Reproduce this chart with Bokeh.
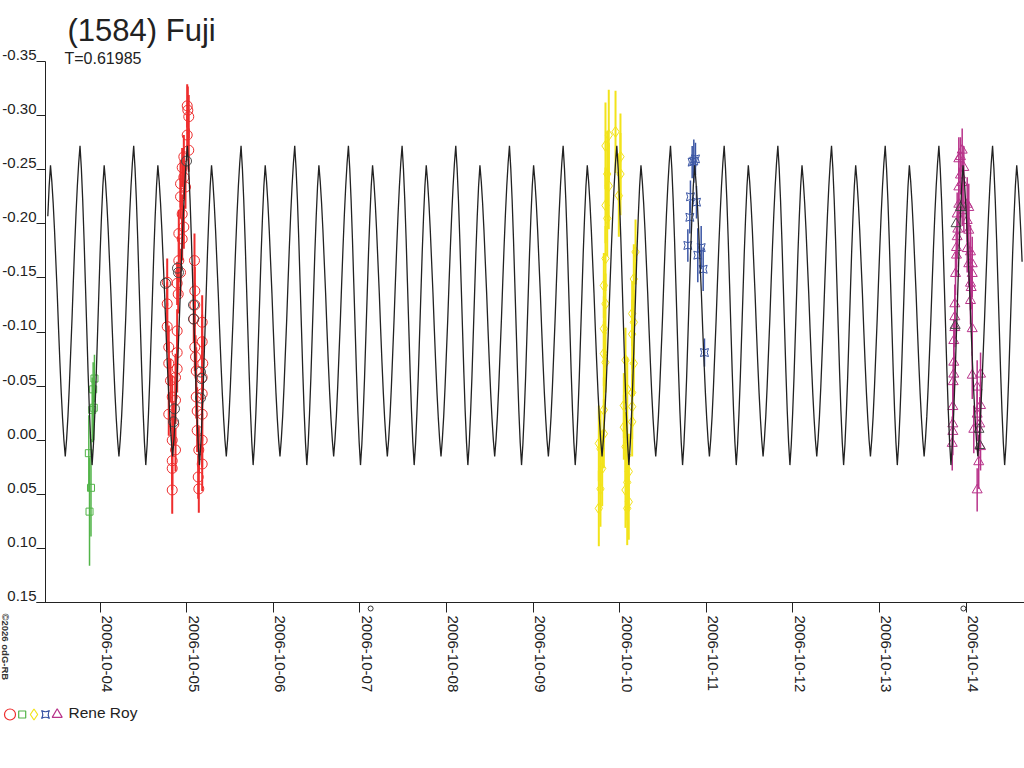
import math
import numpy as np
from bokeh.plotting import figure
from bokeh.models import Range1d, FixedTicker, CustomJSTickFormatter, Label, ColumnDataSource
from bokeh.embed import file_html
from bokeh.resources import INLINE

# ---------------- data ----------------
TITLE = "(1584) Fuji"
PERIOD_TEXT = "T=0.61985"
COPYRIGHT = "\u00a92026 odG-RB"
OBSERVER = "Rene Roy"

PERIOD = 0.61985          # days
EPOCH = -0.5716           # days after 2006-10-04 00:00 UT (fainter maximum, phase 0)
CURVE_START, CURVE_END = -0.618, 10.652
AXIS_X_START = -0.733
Y_AXIS_AT = -0.6293       # time at which the magnitude axis stands
Y_MIN, Y_MAX = -0.35, 0.15

x_tick_values = [0, 1, 2, 3, 4, 5, 6, 7, 8, 9, 10]
x_tick_labels = ["2006-10-04", "2006-10-05", "2006-10-06", "2006-10-07", "2006-10-08",
                 "2006-10-09", "2006-10-10", "2006-10-11", "2006-10-12", "2006-10-13",
                 "2006-10-14"]
y_tick_values = [-0.35, -0.30, -0.25, -0.20, -0.15, -0.10, -0.05, 0.00, 0.05, 0.10, 0.15]
y_tick_labels = ["-0.35", "-0.30", "-0.25", "-0.20", "-0.15", "-0.10", "-0.05",
                 "0.00", "0.05", "0.10", "0.15"]

# one period of the fitted light curve (phase, relative magnitude)
curve_phase = [0.000, 0.025, 0.050, 0.075, 0.100, 0.125, 0.150, 0.175, 0.200, 0.225,
               0.250, 0.275, 0.300, 0.325, 0.350, 0.375, 0.400, 0.425, 0.450, 0.475,
               0.500, 0.525, 0.550, 0.575, 0.600, 0.625, 0.650, 0.675, 0.700, 0.725,
               0.750, 0.775, 0.800, 0.825, 0.850, 0.875, 0.900, 0.925, 0.950, 0.975]
curve_mag = [-0.254, -0.239, -0.219, -0.194, -0.165, -0.136, -0.103, -0.072, -0.044, -0.020,
             0.000, 0.015, -0.001, -0.022, -0.049, -0.080, -0.111, -0.146, -0.179, -0.209,
             -0.235, -0.256, -0.272, -0.251, -0.222, -0.186, -0.145, -0.104, -0.063, -0.027,
             0.002, 0.023, 0.004, -0.024, -0.057, -0.096, -0.135, -0.174, -0.207, -0.235]

# session 1 (red circles), time in days after 2006-10-04 00:00 UT
red_t = [1.007, 1.014, 1.025, 1.007, 1.025, 0.968, 0.949, 0.968, 0.930, 0.987,
         0.930, 0.949, 0.968, 0.910, 0.949, 0.910, 0.930, 0.891, 0.903, 0.776,
         0.776, 0.776, 0.891, 0.794, 0.891, 0.794, 0.891, 0.814, 0.872, 0.834,
         0.872, 0.794, 0.852, 0.834, 0.872, 0.834, 0.834, 0.834,
         1.091, 1.095, 1.095, 1.083, 1.180, 1.095, 1.180, 1.103, 1.187, 1.111,
         1.180, 1.111, 1.180, 1.122, 1.180, 1.122, 1.180, 1.141, 1.180, 1.134, 1.141]
red_mag = [-0.309, -0.305, -0.299, -0.282, -0.268, -0.262, -0.252, -0.243, -0.237, -0.234,
           -0.225, -0.209, -0.197, -0.191, -0.186, -0.166, -0.155, -0.145, -0.135, -0.146,
           -0.126, -0.105, -0.101, -0.086, -0.081, -0.071, -0.066, -0.055, -0.058, -0.040,
           -0.037, -0.024, -0.015, 0.000, 0.009, 0.019, 0.026, 0.046,
           -0.166, -0.138, -0.125, -0.112, -0.109, -0.086, -0.091, -0.077, -0.071, -0.064,
           -0.058, -0.040, -0.043, -0.027, -0.024, -0.009, 0.000, 0.009, 0.022, 0.034, 0.045]
red_err = [0.020, 0.022, 0.020, 0.018, 0.020, 0.020, 0.018, 0.020, 0.022, 0.020,
           0.020, 0.018, 0.020, 0.022, 0.020, 0.020, 0.022, 0.020, 0.018, 0.022,
           0.020, 0.022, 0.020, 0.020, 0.022, 0.020, 0.022, 0.020, 0.022, 0.020,
           0.022, 0.020, 0.020, 0.022, 0.020, 0.022, 0.020, 0.022,
           0.025, 0.022, 0.020, 0.022, 0.025, 0.022, 0.025, 0.020, 0.025, 0.022,
           0.025, 0.020, 0.025, 0.022, 0.025, 0.020, 0.025, 0.022, 0.025, 0.020, 0.022]

# points drawn in dark grey within sessions 1 and 5
grey_c_t = [0.756, 0.895, 0.906, 1.080, 1.080, 1.160, 1.172, 0.860, 0.849, 1.160, 0.999]
grey_c_mag = [-0.145, -0.159, -0.155, -0.125, -0.112, -0.063, -0.057, -0.029, -0.017, -0.039, -0.258]
grey_tri_t = [9.885, 9.936, 9.875, 10.150, 10.160]
grey_tri_mag = [-0.200, -0.215, -0.106, -0.010, 0.005]

# session 2 (green squares)
green_t = [-0.064, -0.079, -0.072, -0.090, -0.129, -0.104, -0.121]
green_mag = [-0.057, -0.047, -0.030, -0.028, 0.012, 0.044, 0.066]
green_err = [0.022, 0.025, 0.030, 0.030, 0.035, 0.045, 0.050]

# session 3 (yellow diamonds)
yel_t = [5.837, 5.875, 5.953, 6.010, 5.857, 6.010, 5.875, 5.991, 5.837, 5.857,
         5.837, 5.818, 5.837, 5.818, 5.818, 5.837, 5.818, 5.818, 5.760, 5.779,
         5.799, 5.779, 5.760,
         6.184, 6.164, 6.145, 6.164, 6.145, 6.068, 6.164, 6.088, 6.145, 6.049,
         6.145, 6.145, 6.049, 6.068, 6.088, 6.106, 6.088, 6.068, 6.106, 6.088]
yel_mag = [-0.272, -0.282, -0.285, -0.262, -0.246, -0.246, -0.235, -0.226, -0.217, -0.205,
           -0.168, -0.143, -0.126, -0.103, -0.080, -0.072, -0.028, -0.006, 0.003, 0.008,
           0.026, 0.045, 0.063,
           -0.174, -0.149, -0.117, -0.109, -0.098, -0.074, -0.071, -0.047, -0.044, -0.032,
           -0.031, -0.017, -0.012, 0.006, 0.014, 0.029, 0.039, 0.046, 0.057, 0.063]
yel_err = [0.040, 0.042, 0.038, 0.040, 0.040, 0.038, 0.040, 0.038, 0.035, 0.035,
           0.030, 0.030, 0.028, 0.030, 0.030, 0.028, 0.030, 0.032, 0.035, 0.035,
           0.035, 0.035, 0.035,
           0.030, 0.032, 0.030, 0.030, 0.032, 0.030, 0.030, 0.030, 0.032, 0.030,
           0.030, 0.032, 0.030, 0.032, 0.032, 0.035, 0.035, 0.035, 0.035, 0.034]

# session 4 (blue)
blue_t = [6.857, 6.876, 6.838, 6.818, 6.888, 6.811, 6.788, 6.942, 6.903, 6.965, 6.980]
blue_mag = [-0.258, -0.260, -0.257, -0.225, -0.220, -0.206, -0.180, -0.178, -0.171, -0.158, -0.081]
blue_err = [0.020, 0.015, 0.015, 0.015, 0.015, 0.015, 0.015, 0.020, 0.025, 0.020, 0.013]

# session 5 (magenta triangles)
mag_t = [9.956, 9.936, 9.917, 9.975, 9.936, 9.956, 9.917, 9.956, 9.917, 9.898,
         9.905, 9.898, 9.890, 9.890, 9.879, 9.871, 9.871, 9.871, 9.859, 9.859,
         9.859, 9.852, 9.848, 9.848, 9.848, 9.841,
         9.975, 10.014, 10.032, 10.014, 10.032, 10.014, 10.052, 10.032, 10.072, 10.072,
         10.052, 10.060, 10.052, 10.072, 10.072, 10.168, 10.129, 10.168, 10.129, 10.090,
         10.159, 10.168, 10.147, 10.129]
mag_mag = [-0.268, -0.262, -0.260, -0.252, -0.245, -0.238, -0.234, -0.218, -0.218, -0.209,
           -0.195, -0.188, -0.178, -0.171, -0.154, -0.126, -0.114, -0.104, -0.092, -0.072,
           -0.061, -0.054, -0.031, -0.015, -0.008, 0.003,
           -0.212, -0.218, -0.215, -0.203, -0.194, -0.177, -0.174, -0.163, -0.163, -0.154,
           -0.145, -0.141, -0.129, -0.103, -0.060, -0.061, -0.049, -0.032, -0.024, -0.010,
           -0.015, 0.006, 0.020, 0.046]
mag_err = [0.020, 0.018, 0.020, 0.020, 0.018, 0.020, 0.018, 0.020, 0.018, 0.020,
           0.018, 0.020, 0.018, 0.020, 0.020, 0.018, 0.020, 0.018, 0.020, 0.018,
           0.020, 0.018, 0.022, 0.020, 0.022, 0.025,
           0.020, 0.025, 0.022, 0.020, 0.025, 0.022, 0.025, 0.020, 0.025, 0.022,
           0.025, 0.020, 0.022, 0.025, 0.022, 0.020, 0.025, 0.022, 0.025, 0.022,
           0.025, 0.022, 0.025, 0.020]

# small marks just under the time axis
axis_mark_t = [3.125, 9.970]

# ---------------- layout / style ----------------
W, H = 1024, 768
PX0, PX_PER_DAY = 99.5, 86.6          # screen x of 2006-10-04, pixels per day
PY0, PY_PER_MAG = 61.0, 1082.0        # screen y of -0.35, pixels per magnitude


def tx(px):   # screen x -> time axis
    return (px - PX0) / PX_PER_DAY


def my(py):   # screen y -> magnitude axis
    return Y_MIN + (py - PY0) / PY_PER_MAG


RED, GREEN, YELLOW, BLUE, MAGENTA = "#ee2d2d", "#52b449", "#f2e31a", "#3a55a4", "#b8338a"
GREY, CURVE, TEXT = "#4a4a4a", "#222222", "#222222"
FONT = "Liberation Sans"

p = figure(width=W, height=H,
           x_range=Range1d(tx(0), tx(W)), y_range=Range1d(my(H), my(0)),
           output_backend="svg", toolbar_location=None,
           min_border=0, min_border_left=0, min_border_right=0,
           min_border_top=0, min_border_bottom=0,
           outline_line_color=None, background_fill_color="white", border_fill_color="white")
p.grid.visible = False

xa = p.xaxis[0]
ya = p.yaxis[0]
xa.fixed_location = Y_MAX
xa.bounds = (AXIS_X_START, tx(W))
ya.fixed_location = Y_AXIS_AT
ya.bounds = (Y_MIN, Y_MAX)
for ax, ticks, out in ((xa, x_tick_values, 10), (ya, y_tick_values, 9)):
    ax.ticker = FixedTicker(ticks=ticks)
    ax.formatter = CustomJSTickFormatter(code="return ''")
    ax.major_tick_out = out
    ax.major_tick_in = 0
    ax.minor_tick_line_color = None
    ax.axis_line_color = CURVE
    ax.major_tick_line_color = CURVE
    ax.major_label_standoff = 0


def session(t, m, e, color, marker, size, lw=1.5):
    assert len(t) == len(m) == len(e)
    src = ColumnDataSource(dict(t=t, m=m,
                                lo=[a - b for a, b in zip(m, e)],
                                hi=[a + b for a, b in zip(m, e)]))
    p.segment(x0="t", y0="lo", x1="t", y1="hi", source=src, line_color=color, line_width=lw)
    p.scatter(x="t", y="m", source=src, marker=marker, size=size,
              line_color=color, fill_color=None, line_width=1)


session(green_t, green_mag, green_err, GREEN, "square", 7)
session(red_t, red_mag, red_err, RED, "circle", 10, lw=2)
session(yel_t, yel_mag, yel_err, YELLOW, "diamond", 11, lw=2)
session(blue_t, blue_mag, blue_err, BLUE, "square_pin", 8)
session(mag_t, mag_mag, mag_err, MAGENTA, "triangle", 10)
p.scatter(grey_c_t, grey_c_mag, marker="circle", size=10, line_color=GREY, fill_color=None)
p.scatter(grey_tri_t, grey_tri_mag, marker="triangle", size=10, line_color=GREY, fill_color=None)

# model light curve, repeated with the period
phase = np.array(curve_phase)
tmpl = np.array(curve_mag)
n0 = math.floor((CURVE_START - EPOCH) / PERIOD) - 1
n1 = math.ceil((CURVE_END - EPOCH) / PERIOD) + 1
cyc = np.arange(n0, n1)
ct = (EPOCH + (cyc[:, None] + phase[None, :]) * PERIOD).ravel()
cm = np.tile(tmpl, len(cyc))
keep = (ct >= CURVE_START) & (ct <= CURVE_END)
p.line(ct[keep], cm[keep], line_color=CURVE, line_width=1.3)

p.scatter(axis_mark_t, [my(608)] * len(axis_mark_t), marker="circle", size=5,
          line_color="#333333", fill_color=None, line_width=1)

# tick labels: magnitude labels sit just above their tick, date labels right of their tick
Y_LABEL_RAISE = 6.6 / PY_PER_MAG
X_LABEL_SHIFT = 7.0 / PX_PER_DAY
for v, s in zip(y_tick_values, y_tick_labels):
    p.add_layout(Label(x=36, x_units="screen", y=v - Y_LABEL_RAISE, y_units="data", text=s,
                       text_align="right", text_baseline="middle",
                       text_font=FONT, text_font_size="15px", text_color=TEXT))
for v, s in zip(x_tick_values, x_tick_labels):
    p.add_layout(Label(x=v + X_LABEL_SHIFT, x_units="data", y=H - 615, y_units="screen", text=s,
                       angle=-math.pi / 2, text_align="left", text_baseline="middle",
                       text_font=FONT, text_font_size="15px", text_color=TEXT))

p.add_layout(Label(x=67, y=H - 29.5, x_units="screen", y_units="screen", text=TITLE,
                   text_font=FONT, text_font_size="31px", text_color=TEXT,
                   text_baseline="middle"))
p.add_layout(Label(x=64, y=H - 58.2, x_units="screen", y_units="screen", text=PERIOD_TEXT,
                   text_font=FONT, text_font_size="16px", text_color=TEXT,
                   text_baseline="middle"))
p.add_layout(Label(x=4.5, y=H - 613, x_units="screen", y_units="screen", text=COPYRIGHT,
                   angle=-math.pi / 2, text_align="left", text_baseline="middle",
                   text_font=FONT, text_font_size="9.5px", text_font_style="bold",
                   text_color="#333333"))

# legend row: one symbol per session, then the observer
leg_px = [9.5, 21.7, 33.5, 45.0, 56.7]
leg_markers = ["circle", "square", "diamond", "square_pin", "triangle"]
leg_colors = [RED, GREEN, YELLOW, BLUE, MAGENTA]
leg_sizes = [11, 7, 11, 8, 10]
for lx, mk, c, s in zip(leg_px, leg_markers, leg_colors, leg_sizes):
    p.scatter([tx(lx)], [my(714)], marker=mk, size=s, line_color=c, fill_color=None, line_width=1.2)
p.add_layout(Label(x=68, y=H - 712, x_units="screen", y_units="screen", text=OBSERVER,
                   text_font=FONT, text_font_size="15.5px", text_color=TEXT,
                   text_baseline="middle"))

open("out.html", "w").write(file_html(p, INLINE))
